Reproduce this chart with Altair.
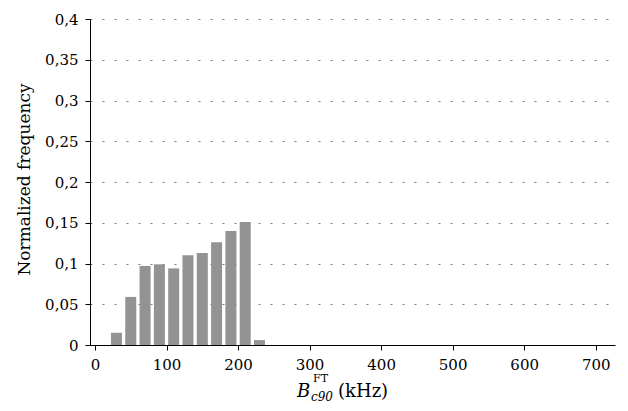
import altair as alt
import pandas as pd

# Data
bin_centers = [30, 50, 70, 90, 110, 130, 150, 170, 190, 210, 230]
frequencies = [0.015, 0.059, 0.097, 0.099, 0.094, 0.110, 0.113, 0.126, 0.140, 0.151, 0.006]
x_ticks = [0, 100, 200, 300, 400, 500, 600, 700]
y_ticks = [0, 0.05, 0.1, 0.15, 0.2, 0.25, 0.3, 0.35, 0.4]

df = pd.DataFrame({"center": bin_centers, "freq": frequencies})

FONT = "DejaVu Serif"
W, H = 525, 326

bars = alt.Chart(df).mark_bar(size=11, color="#939393").encode(
    x=alt.X(
        "center:Q",
        scale=alt.Scale(domain=[0, 720], nice=False, zero=True),
        axis=alt.Axis(
            values=x_ticks, title=None, grid=False,
            domainColor="black", tickColor="black", tickSize=5,
            labelFont=FONT, labelFontSize=15, labelColor="black",
            labelPadding=7, labelFlush=False,
        ),
    ),
    y=alt.Y(
        "freq:Q",
        scale=alt.Scale(domain=[0, 0.4], nice=False),
        axis=alt.Axis(
            values=y_ticks,
            labelExpr="replace(toString(datum.value), '.', ',')",
            title="Normalized frequency",
            titleFont=FONT, titleFontSize=17, titleFontWeight="normal", titleColor="black",
            titleX=-61, titleY=160, titleAngle=270, titleAlign="center", titleBaseline="alphabetic",
            grid=True, gridDash=[2, 10], gridColor="#7a7a7a", gridWidth=1,
            domainColor="black", tickColor="black", tickSize=5,
            labelFont=FONT, labelFontSize=15, labelColor="black", labelPadding=7,
        ),
    ),
)

def txt(s, x, y, size, italic=False):
    return alt.Chart(pd.DataFrame({"t": [s]})).mark_text(
        font=FONT, fontSize=size, fontStyle="italic" if italic else "normal",
        align="left", baseline="alphabetic", color="black",
    ).encode(text="t:N", x=alt.value(x), y=alt.value(y))

title_parts = [
    txt("B", 207, 378, 18, italic=True),
    txt("FT", 223, 363, 11),
    txt("c90", 221, 382, 12, italic=True),
    txt("(kHz)", 248, 378, 18),
]

chart = alt.layer(bars, *title_parts).properties(
    width=W, height=H,
    background="white",
    autosize=alt.AutoSizeParams(type="none"),
    padding={"left": 82, "top": 11, "right": 5, "bottom": 58},
).configure_view(strokeWidth=0)

chart.save("out.html", embed_options={"renderer": "svg", "actions": False})
